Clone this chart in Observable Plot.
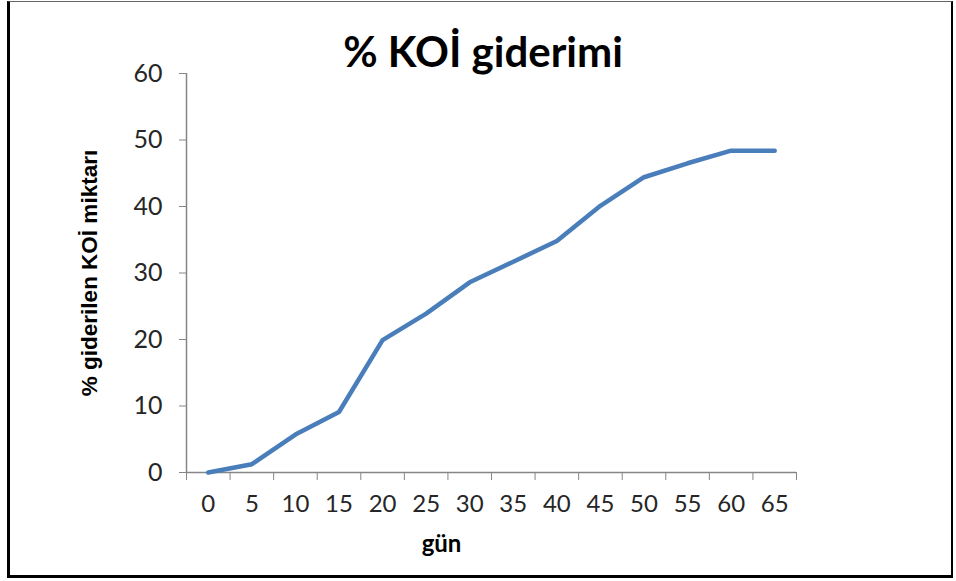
<!DOCTYPE html>
<html>
<head>
<meta charset="utf-8">
<script src="https://cdn.jsdelivr.net/npm/d3@7"></script>
<script src="https://cdn.jsdelivr.net/npm/@observablehq/plot@0.6"></script>
<style>
  html, body { margin: 0; padding: 0; background: #fff; }
  #wrap { position: relative; width: 956px; height: 581px; overflow: hidden; background: #fff; }
  #frame { position: absolute; left: 7px; top: 1px; width: 941px; height: 573px;
           border-left: 3px solid #000; border-top: 1px solid #666; border-right: 2px solid #000; border-bottom: 3px solid #000; pointer-events: none; }
  #title { position: absolute; left: 10px; width: 946px; top: 26px; text-align: center;
           font-family: Lato, "Open Sans", sans-serif; font-weight: bold; font-size: 42px; line-height: normal; color: #000; }
  #chart { position: absolute; left: 0; top: 0; }
</style>
</head>
<body>
<div id="wrap">
  <div id="chart"></div>
  <div id="title">% KOİ giderimi</div>
  <div id="frame"></div>
</div>
<script>
// Categories (days) and measured values
const days = [0, 5, 10, 15, 20, 25, 30, 35, 40, 45, 50, 55, 60, 65];
const removal = [0, 1.25, 5.7, 9.1, 19.9, 23.9, 28.6, 31.7, 34.8, 40.1, 44.4, 46.5, 48.4, 48.4];
// Axis ticks
const yTicks = [0, 10, 20, 30, 40, 50, 60];
const categoryBounds = [-2.5, 2.5, 7.5, 12.5, 17.5, 22.5, 27.5, 32.5, 37.5, 42.5, 47.5, 52.5, 57.5, 62.5, 67.5];
// Texts
const xLabel = "gün";
const yLabel = "% giderilen KOİ miktarı";

const data = days.map((d, i) => ({day: d, value: removal[i]}));

const axisGray = "#868686";
const textColor = "#262626";

const chart = Plot.plot({
  width: 956,
  height: 581,
  marginLeft: 186,
  marginRight: 160,
  marginTop: 73,
  marginBottom: 109,
  style: {fontFamily: "Lato, 'Open Sans', sans-serif", background: "transparent", overflow: "visible"},
  x: {type: "linear", domain: [-2.5, 67.5]},
  y: {domain: [0, 60]},
  marks: [
    Plot.axisY({ticks: yTicks, tickSize: 7, tickPadding: 17, stroke: axisGray, fill: textColor, fontSize: 25, label: null}),
    Plot.axisX({ticks: categoryBounds, tickSize: 8, tickFormat: () => "", stroke: axisGray, label: null}),
    Plot.axisX({ticks: days, tickSize: 0, tickPadding: 22, fill: textColor, fontSize: 24, label: null}),
    Plot.ruleY([0], {stroke: axisGray, strokeWidth: 1.5}),
    Plot.ruleX([-2.5], {stroke: axisGray, strokeWidth: 1.5}),
    Plot.line(data, {x: "day", y: "value", stroke: "#4a7ebb", strokeWidth: 4.5, strokeLinecap: "round", strokeLinejoin: "round"}),
    Plot.text([xLabel], {text: d => d, frameAnchor: "bottom", dx: -50, dy: 79, fontWeight: "bold", fontSize: 24, fill: "#000"}),
    Plot.text([yLabel], {text: d => d, frameAnchor: "left", textAnchor: "middle", lineAnchor: "middle", dx: -97, rotate: -90,
      fontWeight: "bold", fontSize: 22.5, fill: "#000", fontFamily: "'Liberation Sans', Arial, sans-serif"})
  ]
});
document.getElementById("chart").appendChild(chart);
</script>
</body>
</html>
